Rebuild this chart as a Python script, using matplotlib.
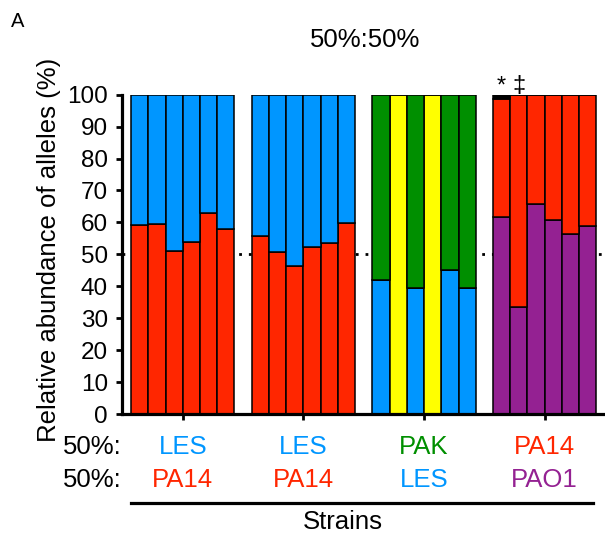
import numpy as np
import matplotlib
matplotlib.use("Agg")
import matplotlib.pyplot as plt
from matplotlib.lines import Line2D
from matplotlib.transforms import blended_transform_factory

plt.rcParams['font.family'] = ['Liberation Sans', 'DejaVu Sans']

# colours per strain
BLUE = '#0096FF'
RED = '#FF2600'
GREEN = '#008F00'
YELLOW = '#FFFF00'
PURPLE = '#942192'

# labels under each group (top row / bottom row)
top_labels = ['LES', 'LES', 'PAK', 'PA14']
bottom_labels = ['PA14', 'PA14', 'LES', 'PAO1']
top_colors = [BLUE, BLUE, GREEN, RED]
bottom_colors = [RED, RED, BLUE, PURPLE]

# group 1: LES vs PA14 (PA14 at bottom)
g1_pa14 = [59.3, 59.6, 51.0, 53.9, 63.0, 57.8]
# group 2: LES vs PA14
g2_pa14 = [55.8, 50.6, 46.2, 52.2, 53.5, 59.9]
# group 3: PAK vs LES, yellow replicates are all 100
g3_les = [42.1, 0, 39.4, 0, 45.2, 39.4]
g3_yellow = [0, 100, 0, 100, 0, 0]
# group 4: PA14 vs PAO1, black = other allele on top of rep 1
g4_pao1 = [61.8, 33.4, 65.7, 60.7, 56.5, 58.8]
g4_black = [1.4, 0, 0, 0, 0, 0]

marks = ['*', '\u2021']   # above first two bars of group 4

FS = 18.5

fig = plt.figure(figsize=(6.05, 5.36), dpi=100)
ax = fig.add_axes([0.2012, 0.2276, 0.8, 0.5957])

def stack(x, layers):
    bottom = np.zeros(len(x))
    for vals, col in layers:
        vals = np.asarray(vals, dtype=float)
        ax.bar(x, vals, width=1.0, bottom=bottom, color=col,
               edgecolor='black', linewidth=1.1, zorder=2)
        bottom = bottom + vals

reps = np.arange(6)
xs = [reps + 7 * g for g in range(4)]

g1 = np.array(g1_pa14)
stack(xs[0], [(g1, RED), (100 - g1, BLUE)])
g2 = np.array(g2_pa14)
stack(xs[1], [(g2, RED), (100 - g2, BLUE)])
g3 = np.array(g3_les)
g3y = np.array(g3_yellow)
stack(xs[2], [(g3, BLUE), (g3y, YELLOW), (100 - g3 - g3y, GREEN)])
g4 = np.array(g4_pao1)
g4b = np.array(g4_black)
stack(xs[3], [(g4, PURPLE), (100 - g4 - g4b, RED), (g4b, 'black')])

ax.axhline(50, color='black', linestyle=(0, (1, 2.5)), linewidth=2,
           zorder=1)

for i, m in enumerate(marks):
    ax.text(xs[3][i], 100.8, m, ha='center', va='baseline', fontsize=17,
            clip_on=False)

ax.set_xlim(-1.04, 27.04)
ax.set_ylim(0, 100)
ax.set_yticks(np.arange(0, 101, 10))
centers = [x.mean() for x in xs]
ax.set_xticks(centers)
ax.set_xticklabels([])
for s in ['top', 'right']:
    ax.spines[s].set_visible(False)
for s in ['left', 'bottom']:
    ax.spines[s].set_linewidth(2.3)
ax.tick_params(axis='both', direction='out', length=4, width=2,
               labelsize=17.5, pad=6)

H = 536.0
def fy(px):
    return 1 - px / H

fig.text(18 / 605, fy(27), 'A', fontsize=14.5, ha='center', va='baseline')
fig.text(365 / 605, fy(46.7), '50%:50%', fontsize=FS, ha='center',
         va='baseline')
fig.text(49 / 605, fy(250), 'Relative abundance of alleles (%)',
         fontsize=FS, rotation=90, ha='center', va='center')

fig.text(121.7 / 605, fy(454.3), '50%:', fontsize=FS, ha='right',
         va='baseline')
fig.text(121.7 / 605, fy(486.7), '50%:', fontsize=FS, ha='right',
         va='baseline')

tr = blended_transform_factory(ax.transData, fig.transFigure)
for c, t, tc, b, bc in zip(centers, top_labels, top_colors,
                           bottom_labels, bottom_colors):
    ax.text(c, fy(454.3), t, color=tc, fontsize=FS, ha='center',
            va='baseline', transform=tr)
    ax.text(c, fy(486.7), b, color=bc, fontsize=FS, ha='center',
            va='baseline', transform=tr)

fig.add_artist(Line2D([131 / 605, 593 / 605], [fy(502.8), fy(502.8)],
                      color='black', linewidth=2.3))
fig.text(343 / 605, fy(529.3), 'Strains', fontsize=FS, ha='center',
         va='baseline')

fig.savefig('out.png', dpi=100)
